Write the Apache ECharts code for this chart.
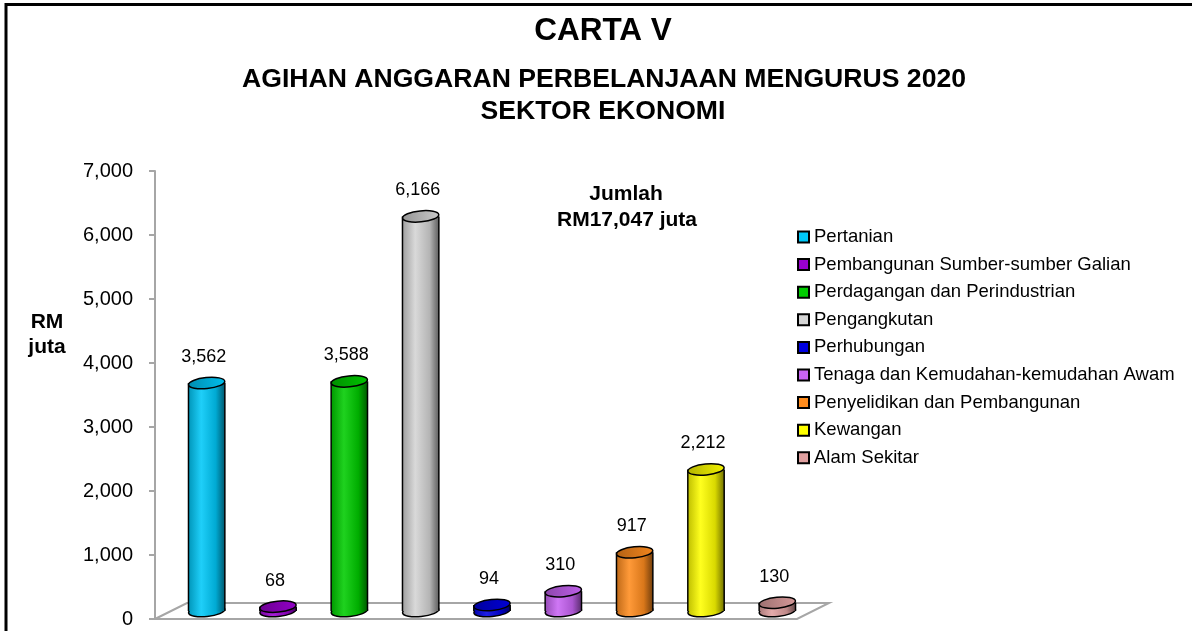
<!DOCTYPE html>
<html>
<head>
<meta charset="utf-8">
<script src="https://cdn.jsdelivr.net/npm/echarts@6/dist/echarts.min.js"></script>
<style>
  html, body { margin: 0; padding: 0; background: #fff; }
  #chart { width: 1192px; height: 631px; }
</style>
</head>
<body>
<div id="chart"></div>
<script>
// data (RM juta)
const categories = [
  'Pertanian',
  'Pembangunan Sumber-sumber Galian',
  'Perdagangan dan Perindustrian',
  'Pengangkutan',
  'Perhubungan',
  'Tenaga dan Kemudahan-kemudahan Awam',
  'Penyelidikan dan Pembangunan',
  'Kewangan',
  'Alam Sekitar'
];
const values = [3562, 68, 3588, 6166, 94, 310, 917, 2212, 130];
const barColors = ['#00C8F8', '#9A00D0', '#00CC00', '#D4D4D4', '#0000E0', '#C864F4', '#FF8C1E', '#FFFF00', '#E0A0A0'];
const yTicks = { min: 0, max: 7000, interval: 1000 };
const totalText = ['Jumlah', 'RM17,047 juta'];

const FONT = 'Liberation Sans, Arial, sans-serif';
// 3d look: bars sit half-way into the floor
const DEPTH_X = 32, DEPTH_Y = 16;

function shade(hex, f) {
  let r = parseInt(hex.slice(1, 3), 16), g = parseInt(hex.slice(3, 5), 16), b = parseInt(hex.slice(5, 7), 16);
  if (f < 0) { r = r * (1 + f); g = g * (1 + f); b = b * (1 + f); }
  else { r = r + (255 - r) * f; g = g + (255 - g) * f; b = b + (255 - b) * f; }
  return 'rgb(' + Math.round(r) + ',' + Math.round(g) + ',' + Math.round(b) + ')';
}

function bodyGradient(c) {
  return new echarts.graphic.LinearGradient(0, 0, 1, 0, [
    { offset: 0, color: shade(c, -0.25) },
    { offset: 0.35, color: shade(c, 0.12) },
    { offset: 0.75, color: shade(c, -0.15) },
    { offset: 1, color: shade(c, -0.55) }
  ]);
}

function fmt(v) { return v.toLocaleString('en-US'); }

function renderCylinder(params, api) {
  const idx = api.value(0), v = api.value(1);
  const c = barColors[idx];
  const top = api.coord([idx, v]);
  const base = api.coord([idx, 0]);
  const cx = top[0] + DEPTH_X / 2;
  const topY = top[1] - DEPTH_Y / 2;
  const baseY = base[1] - DEPTH_Y / 2;
  const w = api.size([1, 0])[0] * 0.51;
  const rx = w / 2, ry = 5.5, rot = 0.1;
  return {
    type: 'group',
    children: [
      { type: 'ellipse', x: cx, y: baseY, rotation: rot, shape: { cx: 0, cy: 0, rx: rx, ry: ry },
        style: { fill: bodyGradient(c), stroke: '#000', lineWidth: 1.5 } },
      { type: 'rect', shape: { x: cx - rx, y: topY, width: w, height: baseY - topY },
        style: { fill: bodyGradient(c) } },
      { type: 'line', shape: { x1: cx - rx, y1: topY, x2: cx - rx, y2: baseY }, style: { stroke: '#000', lineWidth: 1.5 } },
      { type: 'line', shape: { x1: cx + rx, y1: topY, x2: cx + rx, y2: baseY }, style: { stroke: '#000', lineWidth: 1.5 } },
      { type: 'ellipse', x: cx, y: topY, rotation: rot, shape: { cx: 0, cy: 0, rx: rx, ry: ry },
        style: { fill: new echarts.graphic.LinearGradient(0, 0, 1, 0, [
            { offset: 0, color: shade(c, -0.3) }, { offset: 1, color: shade(c, -0.05) }]),
          stroke: '#000', lineWidth: 1.5 } },
      { type: 'text', x: cx - 3, y: topY - 17,
        style: { text: fmt(v), font: '18px ' + FONT, fill: '#000', align: 'center', verticalAlign: 'bottom' } }
    ]
  };
}

function renderFloor(params, api) {
  const cs = params.coordSys;
  const x0 = cs.x, x1 = cs.x + cs.width, y0 = cs.y + cs.height;
  return {
    type: 'polygon',
    shape: { points: [[x0, y0], [x0 + DEPTH_X, y0 - DEPTH_Y], [x1 + DEPTH_X, y0 - DEPTH_Y], [x1, y0]] },
    style: { fill: '#fff', stroke: '#A6A6A6', lineWidth: 2 },
    z2: 0
  };
}

const series = [{
  type: 'custom', name: 'floor', z: 1, silent: true,
  renderItem: renderFloor, data: [[0, 0]]
}];
categories.forEach(function (name, i) {
  series.push({
    type: 'custom', name: name, z: 2,
    itemStyle: { color: barColors[i] },
    renderItem: renderCylinder,
    encode: { x: 0, y: 1 },
    data: [[i, values[i]]]
  });
});

const chart = echarts.init(document.getElementById('chart'));
chart.setOption({
  animation: false,
  backgroundColor: '#fff',
  grid: { left: 155, top: 171, width: 642, bottom: 12 },
  xAxis: {
    type: 'category', data: categories, show: false
  },
  yAxis: {
    type: 'value', min: yTicks.min, max: yTicks.max, interval: yTicks.interval,
    axisLine: { show: true, lineStyle: { color: '#A6A6A6', width: 2 } },
    axisTick: { show: true, length: 6, lineStyle: { color: '#A6A6A6', width: 2 } },
    splitLine: { show: false },
    axisLabel: { margin: 22, color: '#000', fontSize: 20, fontFamily: FONT,
      formatter: function (v) { return fmt(v); } }
  },
  legend: {
    data: categories, orient: 'vertical', left: 797, top: 227, padding: 0,
    icon: 'rect', itemWidth: 11, itemHeight: 11, itemGap: 7.6,
    itemStyle: { borderColor: '#000', borderWidth: 2 },
    textStyle: { fontSize: 18.5, fontFamily: FONT, color: '#000', lineHeight: 20 },
    selectedMode: false
  },
  graphic: [
    { type: 'polyline', shape: { points: [[6, 640], [6, 4.5], [1192, 4.5]] },
      style: { stroke: '#000', lineWidth: 3, fill: null } },
    { type: 'text', x: 603, y: 31, style: { text: 'CARTA V', font: 'bold 31.5px ' + FONT, fill: '#000', align: 'center', verticalAlign: 'middle' } },
    { type: 'text', x: 604, y: 80, style: { text: 'AGIHAN ANGGARAN PERBELANJAAN MENGURUS 2020', font: 'bold 26.6px ' + FONT, fill: '#000', align: 'center', verticalAlign: 'middle' } },
    { type: 'text', x: 603, y: 112, style: { text: 'SEKTOR EKONOMI', font: 'bold 26.6px ' + FONT, fill: '#000', align: 'center', verticalAlign: 'middle' } },
    { type: 'text', x: 626, y: 194, style: { text: totalText[0], font: 'bold 21px ' + FONT, fill: '#000', align: 'center', verticalAlign: 'middle' } },
    { type: 'text', x: 627, y: 220, style: { text: totalText[1], font: 'bold 21px ' + FONT, fill: '#000', align: 'center', verticalAlign: 'middle' } },
    { type: 'text', x: 47, y: 322, style: { text: 'RM', font: 'bold 21px ' + FONT, fill: '#000', align: 'center', verticalAlign: 'middle' } },
    { type: 'text', x: 47, y: 347, style: { text: 'juta', font: 'bold 21px ' + FONT, fill: '#000', align: 'center', verticalAlign: 'middle' } }
  ],
  series: series
});
</script>
</body>
</html>
